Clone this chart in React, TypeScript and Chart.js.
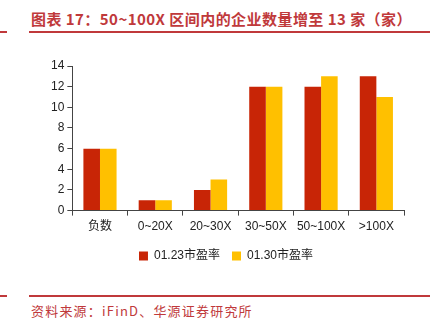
import React, { useEffect, useRef } from "react";
import { Chart, registerables } from "chart.js";

Chart.register(...registerables);

const categories = ["负数", "0~20X", "20~30X", "30~50X", "50~100X", ">100X"];
const seriesA = [6, 1, 2, 12, 12, 13];
const seriesB = [6, 1, 3, 12, 13, 11];
const seriesNames = ["01.23市盈率", "01.30市盈率"];
const title = "图表 17：50~100X 区间内的企业数量增至 13 家（家）";
const source = "资料来源：iFinD、华源证券研究所";

const RED = "#C82506";
const YELLOW = "#FFC000";
const BRAND = "#C0393B";

export default function App() {
  const ref = useRef<HTMLCanvasElement | null>(null);
  useEffect(() => {
    if (!ref.current) return;
    const chart = new Chart(ref.current, {
      type: "bar",
      data: {
        labels: categories,
        datasets: [
          { label: seriesNames[0], data: seriesA, backgroundColor: RED, categoryPercentage: 0.6, barPercentage: 1.0 },
          { label: seriesNames[1], data: seriesB, backgroundColor: YELLOW, categoryPercentage: 0.6, barPercentage: 1.0 },
        ],
      },
      options: {
        animation: false,
        responsive: false,
        maintainAspectRatio: false,
        layout: { padding: { left: 8, right: 26, top: 14, bottom: 0 } },
        plugins: {
          tooltip: { enabled: false },
          legend: {
            position: "bottom",
            labels: {
              boxWidth: 9,
              boxHeight: 9,
              padding: 12,
              color: "#222",
              font: { family: "Liberation Sans, Noto Sans CJK SC", size: 12 },
            },
          },
        },
        scales: {
          x: {
            grid: { display: true, drawOnChartArea: false, drawTicks: true, tickLength: 5, color: "#444" },
            border: { color: "#444", width: 1 },
            ticks: { color: "#222", font: { family: "Liberation Sans, Noto Sans CJK SC", size: 12 }, padding: 4, maxRotation: 0 },
          },
          y: {
            min: 0,
            max: 14,
            grid: { display: true, drawOnChartArea: false, drawTicks: true, tickLength: 5, color: "#444" },
            border: { color: "#444", width: 1 },
            ticks: { stepSize: 2, color: "#222", font: { family: "Liberation Sans", size: 12 }, padding: 3 },
          },
        },
      },
    });
    return () => chart.destroy();
  }, []);

  return (
    <div style={{ position: "fixed", left: 0, top: 0, width: 437, height: 329, background: "#fff", overflow: "hidden" }}>
      <div
        style={{
          position: "absolute",
          left: 31,
          top: 9,
          fontFamily: "Noto Sans CJK SC",
          fontWeight: 700,
          fontSize: 15,
          color: BRAND,
          whiteSpace: "nowrap",
          lineHeight: "20px",
          letterSpacing: 0.45,
        }}
      >
        {title}
      </div>
      <div style={{ position: "absolute", left: 0, top: 31, width: 7, height: 2, background: BRAND }} />
      <div style={{ position: "absolute", left: 29, top: 31, width: 401, height: 2, background: BRAND }} />
      <canvas ref={ref} width={390} height={220} style={{ position: "absolute", left: 40, top: 52, width: 390, height: 220 }} />
      <div style={{ position: "absolute", left: 0, top: 295, width: 7, height: 2, background: BRAND }} />
      <div style={{ position: "absolute", left: 29, top: 295, width: 401, height: 2, background: BRAND }} />
      <div
        style={{
          position: "absolute",
          left: 31,
          top: 302,
          fontFamily: "Noto Sans CJK SC",
          fontSize: 13,
          color: BRAND,
          whiteSpace: "nowrap",
          lineHeight: "18px",
          letterSpacing: 1.2,
        }}
      >
        {source}
      </div>
    </div>
  );
}
